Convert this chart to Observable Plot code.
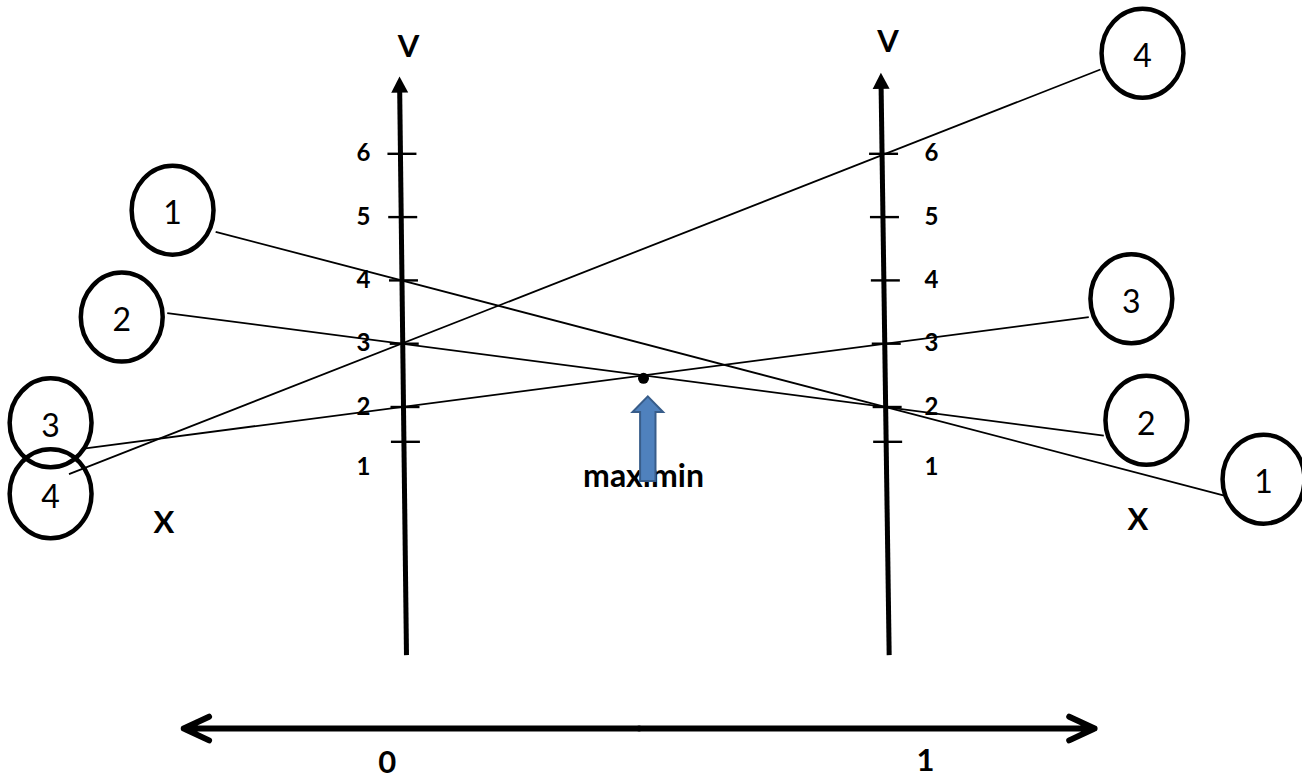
<!DOCTYPE html>
<html>
<head>
<meta charset="utf-8">
<script src="https://cdn.jsdelivr.net/npm/d3@7"></script>
<script src="https://cdn.jsdelivr.net/npm/@observablehq/plot@0.6"></script>
<style>
  html, body { margin: 0; padding: 0; background: #fff; }
  #chart svg { display: block; }
</style>
</head>
<body>
<div id="chart"></div>
<script>
// Row player's pure strategies: expected payoff v as a line in the column mix x (0 → 1)
const strategies = ["1", "2", "3", "4"];
const payoffAtZero = [4, 3, 2, 3];
const payoffAtOne = [2, 2, 3, 6];

// how far each payoff line runs out to its numbered tag (x units)
const lineStartX = [-0.384, -0.484, -0.653, -0.687];
const lineEndX = [1.698, 1.451, 1.420, 1.444];

// numbered tags at both ends of the payoff lines
const tagLeftX = [-0.473, -0.578, -0.725, -0.725];
const tagLeftV = [5.11, 3.42, 1.75, 0.63];
const tagRightX = [1.781, 1.539, 1.508, 1.531];
const tagRightV = [0.86, 1.79, 3.71, 7.59];

// value scale drawn on both vertical axes
const tickValues = [6, 5, 4, 3, 2, 1.45];
const tickLabels = ["6", "5", "4", "3", "2", "1"];
const tickLabelValues = [6, 5, 4, 3, 2, 1.05];
const tickLabelX = [-0.0785, 1.095];

// the two vertical axes: foot and arrow tip
const axisFootX = [0.0103, 1.0076];
const axisFootV = [-1.92, -1.92];
const axisTipX = [-0.0041, 0.9905];
const axisTipV = [7.22, 7.28];

// horizontal probability axis and its end labels
const mixAxisX = [-0.45, 1.432];
const mixAxisV = -3.08;
const mixLabels = ["0", "1"];
const mixLabelX = [-0.0295, 1.0826];
const mixLabelV = [-3.62, -3.60];

// axis names
const axisNames = ["V", "V", "X", "X"];
const axisNameX = [0.0145, 1.0052, -0.4907, 1.5217];
const axisNameV = [7.69, 7.76, 0.17, 0.22];

// screen mapping
const xPx = [401, 885];     // x = 0, x = 1
const yPx = [533.1, 153.3]; // v = 0, v = 6
const pxPerX = xPx[1] - xPx[0];
const pxPerV = (yPx[0] - yPx[1]) / 6;

const payoff = (i, x) => payoffAtZero[i] + (payoffAtOne[i] - payoffAtZero[i]) * x;

const payoffLines = strategies.map((s, i) => ({
  s, x1: lineStartX[i], v1: payoff(i, lineStartX[i]), x2: lineEndX[i], v2: payoff(i, lineEndX[i])
}));

const tags = [
  ...strategies.map((s, i) => ({s, x: tagLeftX[i], v: tagLeftV[i]})),
  ...strategies.map((s, i) => ({s, x: tagRightX[i], v: tagRightV[i]}))
];

// maximin: highest point of the lower envelope on 0 ≤ x ≤ 1
const lowerEnvelope = x => d3.min(strategies, (s, i) => payoff(i, x));
const candidates = [0, 1];
for (let i = 0; i < strategies.length; i++) {
  for (let j = i + 1; j < strategies.length; j++) {
    const si = payoffAtOne[i] - payoffAtZero[i], sj = payoffAtOne[j] - payoffAtZero[j];
    if (si !== sj) {
      const x = (payoffAtZero[j] - payoffAtZero[i]) / (si - sj);
      if (x >= 0 && x <= 1) candidates.push(x);
    }
  }
}
const maximinX = d3.greatest(candidates, lowerEnvelope);
const maximin = [{x: maximinX, v: lowerEnvelope(maximinX)}];

// vertical axes
const axisAt = (k, v) => axisFootX[k] + (axisTipX[k] - axisFootX[k]) * (v - axisFootV[k]) / (axisTipV[k] - axisFootV[k]);
const axes = [0, 1].map(k => ({
  k,
  x1: axisFootX[k], v1: axisFootV[k],
  x2: axisAt(k, axisTipV[k] - 13 / pxPerV), v2: axisTipV[k] - 13 / pxPerV,
  tx: axisTipX[k], tv: axisTipV[k],
  angle: Math.atan2((axisTipX[k] - axisFootX[k]) * pxPerX, (axisTipV[k] - axisFootV[k]) * pxPerV) * 180 / Math.PI
}));
const tickHalf = 14.5 / pxPerX, tickShift = 1.5 / pxPerX;
const ticks = [0, 1].flatMap(k => tickValues.map(v => ({k, v, x: axisAt(k, v) + tickShift})));
const tickText = [0, 1].flatMap(k => tickLabels.map((t, i) => ({t, x: tickLabelX[k], v: tickLabelValues[i]})));

// shapes
const k = 0.5523;
const ellipse = {
  draw(ctx, size) {
    const ry = Math.sqrt(size / Math.PI), rx = ry * 0.92;
    ctx.moveTo(rx, 0);
    ctx.bezierCurveTo(rx, ry * k, rx * k, ry, 0, ry);
    ctx.bezierCurveTo(-rx * k, ry, -rx, ry * k, -rx, 0);
    ctx.bezierCurveTo(-rx, -ry * k, -rx * k, -ry, 0, -ry);
    ctx.bezierCurveTo(rx * k, -ry, rx, -ry * k, rx, 0);
    ctx.closePath();
  }
};
const arrowHead = {
  draw(ctx, size) {
    const s = Math.sqrt(size / Math.PI);
    ctx.moveTo(0, 0);
    ctx.lineTo(-s * 0.53, s);
    ctx.lineTo(s * 0.53, s);
    ctx.closePath();
  }
};
const blockArrow = {
  draw(ctx) {
    ctx.moveTo(0, 0);
    ctx.lineTo(15.3, 15.7);
    ctx.lineTo(7.7, 15.7);
    ctx.lineTo(7.7, 84.7);
    ctx.lineTo(-7.7, 84.7);
    ctx.lineTo(-7.7, 15.7);
    ctx.lineTo(-15.3, 15.7);
    ctx.closePath();
  }
};

const font = "Lato, 'Open Sans', sans-serif";

const chart = Plot.plot({
  width: 1302,
  height: 778,
  margin: 0,
  x: {domain: [0, 1], range: xPx, axis: null},
  y: {domain: [0, 6], range: yPx, axis: null},
  style: {background: "#fff", fontFamily: font, overflow: "visible"},
  marks: [
    // payoff lines
    Plot.link(payoffLines, {x1: "x1", y1: "v1", x2: "x2", y2: "v2", stroke: "#000", strokeWidth: 1.8}),
    // vertical axes with arrow tips
    Plot.link(axes, {x1: "x1", y1: "v1", x2: "x2", y2: "v2", stroke: "#000", strokeWidth: 5, ariaLabel: "value axis"}),
    Plot.dot(axes, {x: "tx", y: "tv", r: 16, symbol: arrowHead, fill: "#000", stroke: "none", rotate: "angle", ariaLabel: "value axis tip"}),
    Plot.link(ticks, {x1: d => d.x - tickHalf, x2: d => d.x + tickHalf, y1: "v", y2: "v", stroke: "#000", strokeWidth: 2.4}),
    Plot.text(tickText, {x: "x", y: "v", text: "t", fontSize: 24, fontWeight: 700, fontFamily: font, fill: "#000"}),
    // numbered tags
    Plot.dot(tags, {x: "x", y: "v", r: 44.5, symbol: ellipse, fill: "none", stroke: "#000", strokeWidth: 4.5}),
    Plot.text(tags, {x: "x", y: "v", text: "s", fontSize: 32, fontFamily: font, dy: 4, fill: "#000"}),
    // axis names
    Plot.text(axisNames, {x: (d, i) => axisNameX[i], y: (d, i) => axisNameV[i], text: d => d, fontSize: 31, fontWeight: 700, fontFamily: font, fill: "#000"}),
    // probability axis
    Plot.arrow([0, 1], {
      x1: (mixAxisX[0] + mixAxisX[1]) / 2, y1: mixAxisV,
      x2: d => mixAxisX[d], y2: mixAxisV,
      stroke: "#000", strokeWidth: 6, headAngle: 50, headLength: 7
    }),
    Plot.text(mixLabels, {x: (d, i) => mixLabelX[i], y: (d, i) => mixLabelV[i], text: d => d, fontSize: 31, fontWeight: 700, fontFamily: font, fill: "#000"}),
    // maximin point, label and pointer
    Plot.dot(maximin, {x: "x", y: "v", r: 5.5, fill: "#000", stroke: "none", dy: 3}),
    Plot.text(maximin, {x: "x", y: "v", text: () => "maximin", lineAnchor: "bottom", dy: 112, fontSize: 32, fontWeight: 700, fontFamily: font, fill: "#000"}),
    Plot.dot(maximin, {x: "x", y: "v", r: 10, symbol: blockArrow, dx: 4.3, dy: 21, fill: "#4F81BD", stroke: "#385D8A", strokeWidth: 2})
  ]
});

document.getElementById("chart").appendChild(chart);

// soft shadow under the axes
chart.querySelectorAll('[aria-label="value axis"], [aria-label="value axis tip"]').forEach(g => {
  g.style.filter = "drop-shadow(1px 2px 1.5px rgba(0,0,0,0.35))";
});
</script>
</body>
</html>
